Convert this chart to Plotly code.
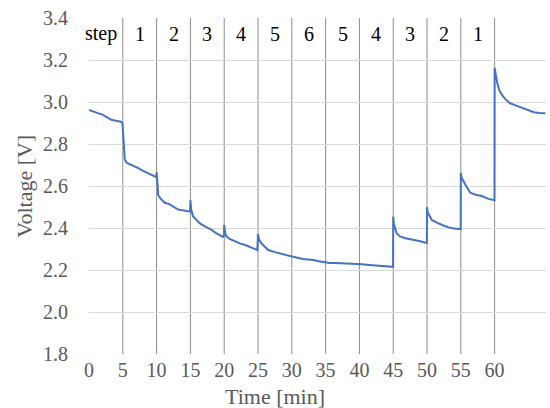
import plotly.graph_objects as go

# Measured cell voltage over time
time_min = [
    0, 0.5, 1.3, 2.0, 2.7, 3.3, 3.8, 4.3, 4.7, 4.95,
    5.0, 5.1, 5.3, 5.6, 6.0, 6.3, 6.8, 7.3, 7.8, 8.3, 8.8, 9.3, 9.7, 9.95,
    10.0, 10.1, 10.25, 10.6, 11.2, 11.8, 12.5, 13.2, 13.8, 14.3, 14.8, 14.95,
    15.0, 15.1, 15.4, 15.8, 16.4, 17.0, 17.6, 18.2, 18.8, 19.3, 19.8, 19.95,
    20.0, 20.15, 20.35, 20.8, 21.6, 22.3, 23.1, 23.8, 24.4, 24.9,
    25.0, 25.15, 25.5, 26.0, 26.5, 27.5, 28.5, 29.3, 30.0, 30.8, 31.7, 32.4,
    33.2, 34.0, 34.9, 35.6, 36.5, 37.9, 39.0, 40.4, 41.5, 42.8, 43.8, 44.5, 44.98,
    45.0, 45.1, 45.5, 46.0, 46.8, 47.5, 48.3, 49.0, 49.8, 49.98,
    50.0, 50.1, 50.7, 51.2, 51.7, 52.4, 53.2, 54.0, 54.9, 54.98,
    55.0, 55.1, 55.7, 56.4, 57.2, 58.1, 59.0, 59.9, 59.98,
    60.0, 60.1, 60.4, 60.7, 61.1, 61.7, 62.3, 63.2, 64.3, 65.0, 65.8, 66.6, 67.5,
]
voltage_v = [
    2.962, 2.955, 2.947, 2.940, 2.928, 2.915, 2.912, 2.910, 2.906, 2.900,
    2.880, 2.800, 2.725, 2.710, 2.705, 2.700, 2.695, 2.685, 2.676, 2.668, 2.660, 2.652, 2.645, 2.642,
    2.665, 2.600, 2.555, 2.540, 2.520, 2.515, 2.500, 2.488, 2.484, 2.480, 2.477, 2.478,
    2.533, 2.490, 2.455, 2.440, 2.422, 2.410, 2.400, 2.390, 2.375, 2.365, 2.358, 2.360,
    2.414, 2.375, 2.360, 2.348, 2.335, 2.327, 2.319, 2.310, 2.303, 2.295,
    2.371, 2.345, 2.327, 2.310, 2.295, 2.285, 2.276, 2.270, 2.263, 2.258, 2.252, 2.250,
    2.248, 2.242, 2.237, 2.233, 2.233, 2.232, 2.230, 2.227, 2.224, 2.221, 2.218, 2.218, 2.215,
    2.454, 2.420, 2.375, 2.360, 2.351, 2.347, 2.343, 2.337, 2.330, 2.330,
    2.499, 2.475, 2.438, 2.428, 2.422, 2.412, 2.403, 2.398, 2.395, 2.395,
    2.663, 2.640, 2.605, 2.568, 2.558, 2.552, 2.540, 2.533, 2.532,
    3.163, 3.140, 3.089, 3.055, 3.033, 3.010, 2.994, 2.983, 2.970, 2.962, 2.951, 2.948, 2.946,
]

# Step boundaries and the step number shown in each interval
step_bounds = [5, 10, 15, 20, 25, 30, 35, 40, 45, 50, 55, 60]
step_label_x = [1.75, 7.5, 12.5, 17.5, 22.5, 27.5, 32.5, 37.5, 42.5, 47.5, 52.5, 57.5]
step_labels = ["step", "1", "2", "3", "4", "5", "6", "5", "4", "3", "2", "1"]

x_ticks = list(range(0, 61, 5))
y_ticks = [1.8, 2.0, 2.2, 2.4, 2.6, 2.8, 3.0, 3.2, 3.4]

SERIF = "Liberation Serif"
GREY = "#595959"

fig = go.Figure()
fig.add_trace(go.Scatter(
    x=time_min, y=voltage_v, mode="lines",
    line=dict(color="#4472C4", width=2),
    showlegend=False, hoverinfo="skip",
))

for b in step_bounds:
    fig.add_shape(type="line", xref="x", yref="y",
                  x0=b, x1=b, y0=y_ticks[0], y1=y_ticks[-1],
                  line=dict(color="#8c8c8c", width=1), layer="below")

for lx, txt in zip(step_label_x, step_labels):
    fig.add_annotation(x=lx, y=3.326, xref="x", yref="y", text=txt,
                       showarrow=False, xanchor="center", yanchor="middle",
                       font=dict(family=SERIF, size=20, color="#000000"))

fig.add_annotation(x=0.408, y=-0.125, xref="paper", yref="paper",
                   text="Time [min]", showarrow=False,
                   xanchor="center", yanchor="middle",
                   font=dict(family=SERIF, size=22, color=GREY))
fig.add_annotation(x=-0.143, y=0.5, xref="paper", yref="paper",
                   text="Voltage [V]", showarrow=False, textangle=-90,
                   xanchor="center", yanchor="middle",
                   font=dict(family=SERIF, size=22, color=GREY))

fig.update_layout(
    width=550, height=408,
    margin=dict(l=89, r=4, t=18, b=54),
    paper_bgcolor="white", plot_bgcolor="white",
    font=dict(family=SERIF, color=GREY),
    xaxis=dict(range=[0, 67.6], tickvals=x_ticks, showgrid=False,
               zeroline=False, showline=False, ticks="",
               tickfont=dict(family=SERIF, size=20, color=GREY),
               ticklabelstandoff=2),
    yaxis=dict(range=[1.8, 3.4], tickvals=y_ticks,
               ticktext=[f"{v:.1f}" for v in y_ticks],
               showgrid=True, gridcolor="#d9d9d9", gridwidth=1,
               zeroline=False, showline=False, ticks="",
               tickfont=dict(family=SERIF, size=20, color=GREY),
               ticklabelstandoff=20),
)

fig.write_html("out.html")
